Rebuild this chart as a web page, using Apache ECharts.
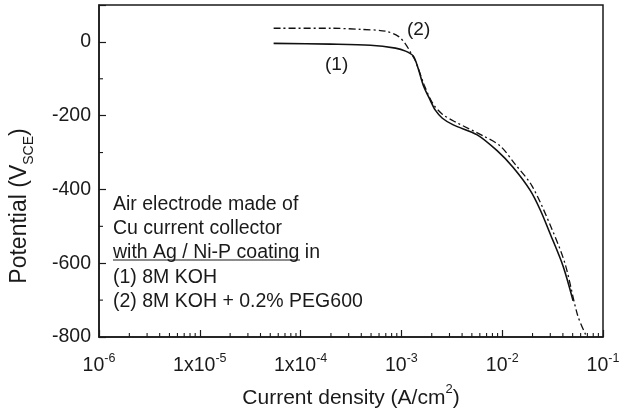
<!DOCTYPE html>
<html>
<head>
<meta charset="utf-8">
<script src="https://cdn.jsdelivr.net/npm/echarts@6/dist/echarts.min.js"></script>
<style>
  html, body { margin: 0; padding: 0; background: #fff; }
  #main { width: 627px; height: 414px; }
</style>
</head>
<body>
<div id="main"></div>
<script>
// curve (1): 8M KOH
const koh_i = [5.4e-5, 1.98e-4, 4.93e-4, 8.73e-4, 1.10e-3, 1.31e-3, 1.47e-3, 1.65e-3, 1.94e-3, 2.17e-3,
  2.55e-3, 3.27e-3, 5.65e-3, 8.9e-3, 1.28e-2, 1.89e-2, 2.38e-2, 2.99e-2, 4.02e-2, 5.05e-2]
const koh_v = [-4, -6, -9, -17, -25, -38, -73, -118, -159, -185,
  -207, -225, -252, -295, -340, -402, -455, -520, -608, -702]
// curve (2): 8M KOH + 0.2% PEG600
const peg_i = [5.4e-5, 1.98e-4, 3.93e-4, 6.95e-4, 9.33e-4, 1.10e-3, 1.23e-3, 1.38e-3, 1.69e-3, 2.05e-3,
  2.55e-3, 3.43e-3, 6.5e-3, 9.55e-3, 1.33e-2, 1.98e-2, 3.13e-2, 4.21e-2, 5.6e-2, 6.9e-2]
const peg_v = [37, 37, 34, 29, 15, -6, -28, -52, -118, -167,
  -196, -217, -255, -282, -330, -391, -509, -602, -741, -800]

// tick labels of the x axis: prefix + exponent
const xTickExp = [-6, -5, -4, -3, -2, -1]
const xTickPre = ['10', '1x10', '1x10', '10', '10', '10']
const yMinor = [-700, -500, -300, -100]
const xMinor = []
for (let e = -6; e < -1; e++) {
  for (let m = 2; m <= 9; m++) xMinor.push(m * Math.pow(10, e))
}

const FONT = 'Liberation Sans, Arial, Helvetica, sans-serif'
const chart = echarts.init(document.getElementById('main'))

const zip = (a, b) => a.map((x, i) => [x, b[i]])

chart.setOption({
  animation: false,
  textStyle: { fontFamily: FONT, color: '#1a1a1a' },
  grid: {
    left: 98, right: 24, top: 5, bottom: 72,
    show: true, borderColor: '#1a1a1a', borderWidth: 1.5
  },
  xAxis: {
    type: 'log',
    min: 1e-6,
    max: 1e-1,
    logBase: 10,
    splitLine: { show: false },
    axisLine: { onZero: false, lineStyle: { color: '#1a1a1a', width: 1.5 } },
    axisTick: { inside: true, length: 7, lineStyle: { color: '#1a1a1a', width: 1.2 } },
    axisLabel: {
      margin: 15,
      formatter: function (v) {
        const e = Math.round(Math.log10(v))
        const k = xTickExp.indexOf(e)
        if (k < 0) return ''
        return '{b|' + xTickPre[k] + '}{s|' + e + '}'
      },
      rich: {
        b: { fontSize: 19.5, fontFamily: FONT, color: '#1a1a1a', lineHeight: 24, verticalAlign: 'bottom' },
        s: { fontSize: 12.5, fontFamily: FONT, color: '#1a1a1a', lineHeight: 24, verticalAlign: 'top', padding: [0, 0, 8, 0] }
      }
    },
    name: '{b|Current density (A/cm}{s|2}{b|)}',
    nameLocation: 'middle',
    nameGap: 46,
    nameTextStyle: {
      rich: {
        b: { fontSize: 21, fontFamily: FONT, color: '#1a1a1a', lineHeight: 26, verticalAlign: 'bottom' },
        s: { fontSize: 13, fontFamily: FONT, color: '#1a1a1a', lineHeight: 26, verticalAlign: 'top', padding: [0, 0, 8, 0] }
      }
    }
  },
  yAxis: {
    type: 'value',
    min: -800,
    max: 100,
    interval: 200,
    splitLine: { show: false },
    axisLine: { onZero: false, lineStyle: { color: '#1a1a1a', width: 1.5 } },
    axisTick: { inside: true, length: 7, lineStyle: { color: '#1a1a1a', width: 1.2 } },
    axisLabel: {
      margin: 8,
      fontSize: 19.5,
      color: '#1a1a1a',
      formatter: v => (v % 200 === 0 ? String(v) : '')
    },
    name: '{b|Potential (V}{s|SCE}{b|)}',
    nameLocation: 'middle',
    nameGap: 63,
    nameRotate: 90,
    nameTextStyle: {
      padding: [0, 0, 0, -70],
      rich: {
        b: { fontSize: 23, fontFamily: FONT, color: '#1a1a1a', lineHeight: 28, verticalAlign: 'top' },
        s: { fontSize: 14, fontFamily: FONT, color: '#1a1a1a', lineHeight: 28, verticalAlign: 'bottom', padding: [8, 0, 0, 0] }
      }
    }
  },
  series: [
    {
      name: '(1)',
      type: 'line',
      data: zip(koh_i, koh_v),
      showSymbol: false,
      smooth: 0.3,
      lineStyle: { color: '#111', width: 1.6, type: 'solid' },
      z: 3
    },
    {
      name: '(2)',
      type: 'line',
      data: zip(peg_i, peg_v),
      showSymbol: false,
      smooth: 0.3,
      lineStyle: { color: '#111', width: 1.3, type: [7, 3, 2, 3] },
      z: 3
    },
    {
      // minor ticks on x
      type: 'custom',
      data: xMinor.map(v => [v, -800]),
      silent: true,
      clip: false,
      renderItem: function (params, api) {
        const p = api.coord([api.value(0), -800])
        return { type: 'line', shape: { x1: p[0], y1: p[1], x2: p[0], y2: p[1] - 4 },
          style: { stroke: '#1a1a1a', lineWidth: 1.1 } }
      }
    },
    {
      // minor ticks on y
      type: 'custom',
      data: yMinor.map(v => [1e-6, v]),
      silent: true,
      clip: false,
      renderItem: function (params, api) {
        const p = api.coord([1e-6, api.value(1)])
        return { type: 'line', shape: { x1: p[0], y1: p[1], x2: p[0] + 4, y2: p[1] },
          style: { stroke: '#1a1a1a', lineWidth: 1.1 } }
      }
    }
  ],
  graphic: [
    { type: 'text', left: 407, top: 20, style: { text: '(2)', font: '19px ' + FONT, fill: '#1a1a1a' } },
    { type: 'text', left: 325, top: 55, style: { text: '(1)', font: '19px ' + FONT, fill: '#1a1a1a' } },
    { type: 'text', left: 113, top: 192, style: {
        text: 'Air electrode made of\nCu current collector\nwith Ag / Ni-P coating in\n(1) 8M KOH\n(2) 8M KOH + 0.2% PEG600',
        font: '19.5px ' + FONT, lineHeight: 24.4, fill: '#1a1a1a' } },
    { type: 'line', shape: { x1: 113, y1: 260, x2: 300, y2: 260 }, style: { stroke: '#1a1a1a', lineWidth: 1.2 } }
  ]
})
</script>
</body>
</html>
